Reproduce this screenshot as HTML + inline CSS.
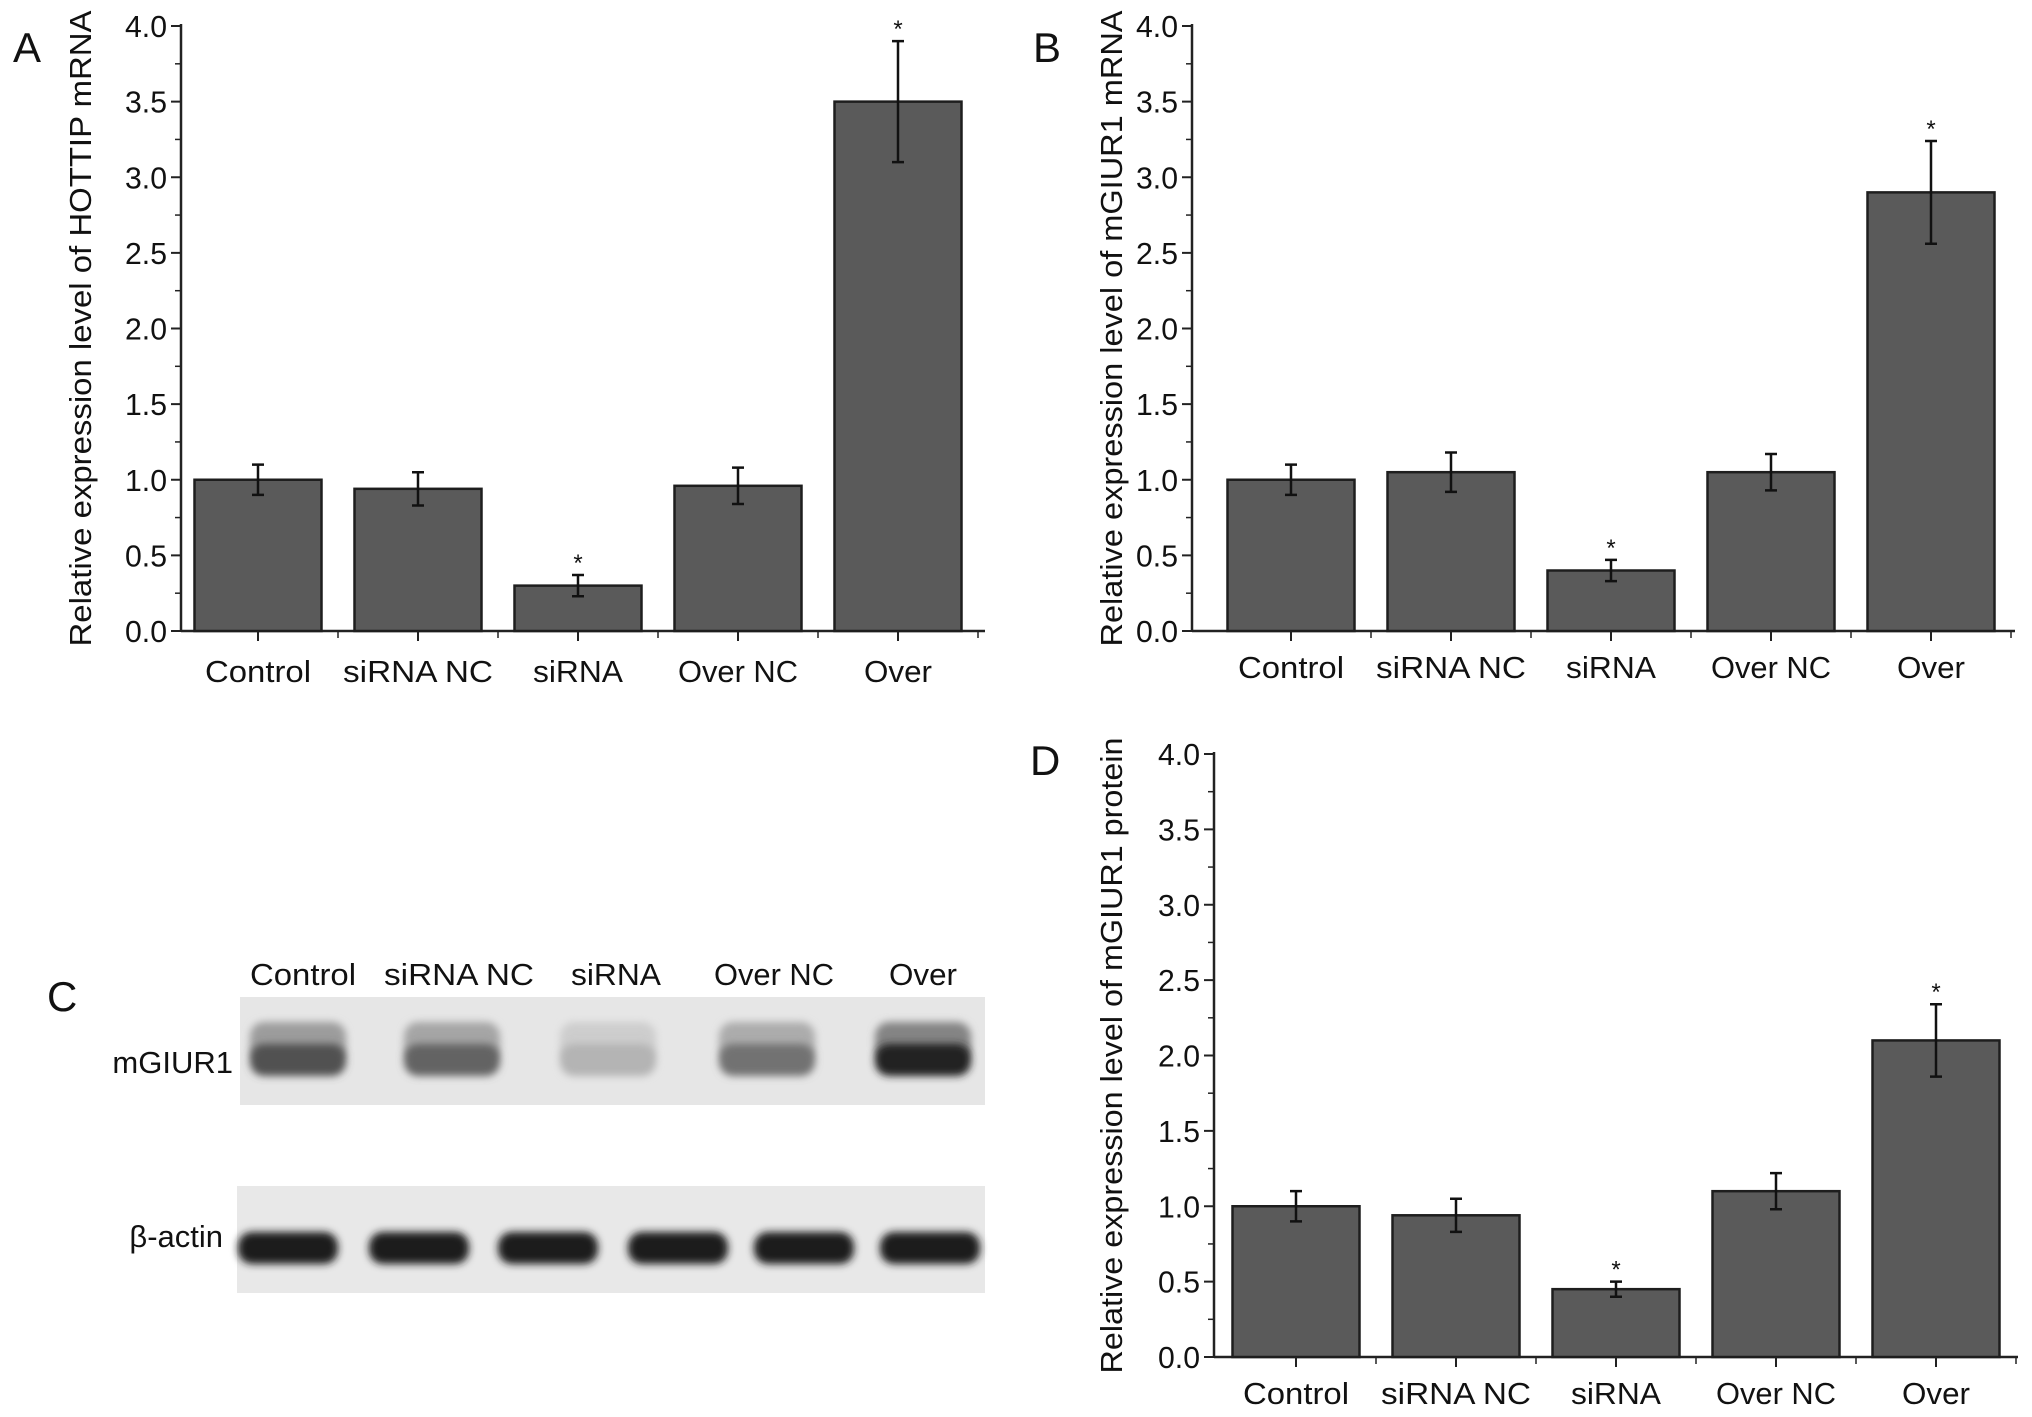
<!DOCTYPE html>
<html><head><meta charset="utf-8"><style>
html,body{margin:0;padding:0;background:#fff}
svg{display:block}
text{font-family:"Liberation Sans",Arial,sans-serif;fill:#111}
</style></head><body>
<svg id="fig" width="2032" height="1417" viewBox="0 0 2032 1417" xmlns="http://www.w3.org/2000/svg">
<defs>
<filter id="blur2" x="-30%" y="-60%" width="160%" height="220%"><feGaussianBlur stdDeviation="4"/></filter>
</defs>
<text x="13" y="62" font-size="42">A</text>
<text x="1033" y="62" font-size="42">B</text>
<text x="47" y="1011" font-size="42">C</text>
<text x="1030" y="775" font-size="42">D</text>
<g id="chartA"></g>
<g id="chartB"></g>
<g id="chartD"></g>
<g id="gel">
<rect x="240" y="997" width="745" height="108" fill="#e6e6e6"/>
<rect x="237" y="1186" width="748" height="107" fill="#e8e8e8"/>
<text x="233" y="1073" font-size="31" text-anchor="end">mGIUR1</text>
<text x="223" y="1247" font-size="31" text-anchor="end">β-actin</text>
</g>
</svg>
<script>
const categories = ["Control","siRNA NC","siRNA","Over NC","Over"];
const yTicks = ["0.0","0.5","1.0","1.5","2.0","2.5","3.0","3.5","4.0"];
const valuesA = [1.0, 0.94, 0.30, 0.96, 3.5];
const errorsA = [0.10, 0.11, 0.07, 0.12, 0.40];
const starsA = [false, false, true, false, true];
const valuesB = [1.0, 1.05, 0.40, 1.05, 2.9];
const errorsB = [0.10, 0.13, 0.07, 0.12, 0.34];
const starsB = [false, false, true, false, true];
const valuesD = [1.0, 0.94, 0.45, 1.10, 2.1];
const errorsD = [0.10, 0.11, 0.05, 0.12, 0.24];
const starsD = [false, false, true, false, true];
const gelTopIntensity = [0.70, 0.62, 0.25, 0.55, 0.92];
const gelBottomIntensity = [0.95, 0.95, 0.95, 0.95, 0.95, 0.95];

const NS = "http://www.w3.org/2000/svg";
function mk(parent, tag, attrs, txt){
  const e = document.createElementNS(NS, tag);
  for (const k in attrs) e.setAttribute(k, attrs[k]);
  if (txt !== undefined) e.textContent = txt;
  parent.appendChild(e);
  return e;
}

function drawChart(gid, vals, errs, stars, L, title, titleX, titleLen){
  const g = document.getElementById(gid);
  const ymax = 4.0;
  const yS = v => L.y0 - (v / ymax) * (L.y0 - L.y4);
  const step = L.step;
  const xC = i => L.c0 + step * i;
  const bw = 127;
  const ya = mk(g,"line",{x1:L.x0,y1:L.y4-2,x2:L.x0,y2:L.y0,stroke:"#222","stroke-width":2.5});
  
  
  const xa = mk(g,"line",{x1:L.x0,y1:L.y0,x2:L.right,y2:L.y0,stroke:"#222","stroke-width":2.5});
  
  
  yTicks.forEach((t,i)=>{
    const v = parseFloat(t);
    const y = yS(v);
    const tk = mk(g,"line",{x1:L.x0-10,y1:y,x2:L.x0,y2:y,stroke:"#222","stroke-width":2});
    
    
    const lb = mk(g,"text",{x:L.x0-14,y:y+11,"font-size":31,"text-anchor":"end",textLength:42,lengthAdjust:"spacingAndGlyphs"},t);
    
    
    if (i < yTicks.length-1){
      const ym = yS(v+0.25);
      const mt = mk(g,"line",{x1:L.x0-6,y1:ym,x2:L.x0,y2:ym,stroke:"#222","stroke-width":1.5});
      
      
    }
  });
  vals.forEach((v,i)=>{
    const x = xC(i);
    const r = mk(g,"rect",{x:x-bw/2,y:yS(v),width:bw,height:L.y0-yS(v),fill:"#5a5a5a",stroke:"#1e1e1e","stroke-width":2.5});
    
    
    const e = errs[i], yt = yS(v+e), yb = yS(v-e);
    const eb = mk(g,"path",{d:`M${x},${yt}V${yb}M${x-6},${yt}H${x+6}M${x-6},${yb}H${x+6}`,stroke:"#111","stroke-width":2.5,fill:"none"});
    
    
    if (stars[i]){
      const s = mk(g,"text",{x:x,y:yt-4,"font-size":24,"text-anchor":"middle"},"*");
      
      
    }
    const ct = mk(g,"line",{x1:x,y1:L.y0,x2:x,y2:L.y0+10,stroke:"#222","stroke-width":2});
    
    
    const st = mk(g,"line",{x1:x+step/2,y1:L.y0,x2:x+step/2,y2:L.y0+7,stroke:"#222","stroke-width":1.5});
    
    
    const lbw = [106,150,90,120,68][i];
    const cl = mk(g,"text",{x:x,y:L.labY,"font-size":31,"text-anchor":"middle",textLength:lbw,lengthAdjust:"spacingAndGlyphs"},categories[i]);
    
    
  });
  const cy = (L.y0+L.y4)/2;
  const tt = mk(g,"text",{x:titleX,y:cy,"font-size":31,"text-anchor":"middle",transform:`rotate(-90 ${titleX} ${cy})`,textLength:titleLen,lengthAdjust:"spacingAndGlyphs"},title);
  
  
}

drawChart("chartA", valuesA, errorsA, starsA, {x0:181,y0:631,y4:26,right:985,labY:682,c0:258,step:160}, "Relative expression level of HOTTIP mRNA", 91, 636);
drawChart("chartB", valuesB, errorsB, starsB, {x0:1192,y0:631,y4:26,right:2015,labY:678,c0:1291,step:160}, "Relative expression level of mGIUR1 mRNA", 1122, 636);
drawChart("chartD", valuesD, errorsD, starsD, {x0:1214,y0:1357,y4:754,right:2018,labY:1404,c0:1296,step:160}, "Relative expression level of mGIUR1 protein", 1122, 636);

const gel = document.getElementById("gel");
const topCenters = [298,452,608,767,923];
const gelLabelCenters = [303,459,616,774,923];
const gelLabelW = [106,150,90,120,68];
categories.forEach((c,i)=>{
  const t = mk(gel,"text",{x:gelLabelCenters[i],y:985,"font-size":31,"text-anchor":"middle",textLength:gelLabelW[i],lengthAdjust:"spacingAndGlyphs"},c);
  
  
  const k = Math.round(235 - gelTopIntensity[i]*220);
  const h = mk(gel,"rect",{x:topCenters[i]-48,y:1022,width:96,height:40,rx:14,fill:`rgb(${Math.round((k+230)/2)},${Math.round((k+230)/2)},${Math.round((k+230)/2)})`,filter:"url(#blur2)"});
  
  
  const b = mk(gel,"rect",{x:topCenters[i]-48,y:1044,width:96,height:32,rx:14,fill:`rgb(${k},${k},${k})`,filter:"url(#blur2)"});
  
  
});
const botCenters = [288,419,548,678,804,930];
gelBottomIntensity.forEach((v,i)=>{
  const k = Math.round(235 - v*220);
  const b = mk(gel,"rect",{x:botCenters[i]-50,y:1232,width:100,height:32,rx:14,fill:`rgb(${k},${k},${k})`,filter:"url(#blur2)"});
  
  
});
</script>
</body></html>
